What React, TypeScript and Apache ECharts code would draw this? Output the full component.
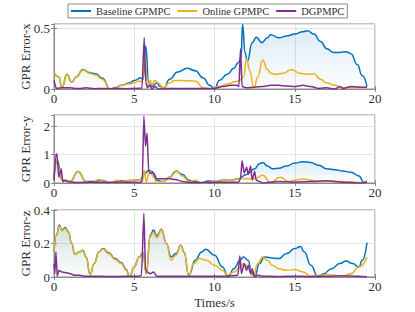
import React, { useEffect, useRef } from "react";
import * as echarts from "echarts";

type Pt = [number, number];

const seriesNames = ["Baseline GPMPC", "Online GPMPC", "DGPMPC"];
const panelNames = ["GPR Error-x", "GPR Error-y", "GPR Error-z"];
const xTicks = [0, 5, 10, 15, 20];
const yMax = [0.533, 2.39, 0.4];
const yStep = [0.5, 1, 0.2];

// ---------- Panel x ----------
const baselineX: Pt[] = [
  [0, 0.135], [0.3, 0.1], [0.5, 0.01], [0.8, 0.12], [1.1, 0.055], [1.4, 0.1], [1.8, 0.16], [2.2, 0.135],
  [2.6, 0.125], [3.0, 0.09], [3.5, 0.0], [3.8, 0.01], [4.2, 0.03], [4.7, 0.05], [5.0, 0.07], [5.4, 0.09],
  [5.55, 0.08], [5.72, 0.35], [5.9, 0.05], [6.1, 0.02], [6.4, 0.05], [6.6, 0.02], [6.85, 0.01], [7.2, 0.08],
  [7.7, 0.14], [8.3, 0.17], [8.8, 0.15], [9.3, 0.09], [9.7, 0.03], [10.0, 0.0], [10.3, 0.07], [10.8, 0.12],
  [11.2, 0.17], [11.5, 0.22], [11.65, 0.26], [11.75, 0.53], [11.9, 0.3], [12.05, 0.23], [12.35, 0.38],
  [12.6, 0.425], [12.95, 0.38], [13.3, 0.42], [13.5, 0.445], [14.0, 0.42], [14.5, 0.435], [15.0, 0.45],
  [15.5, 0.47], [15.8, 0.478], [16.2, 0.45], [16.6, 0.39], [17.0, 0.33], [17.4, 0.3], [17.8, 0.3],
  [18.2, 0.305], [18.5, 0.29], [18.9, 0.2], [19.2, 0.11], [19.5, 0.02],
];
const onlineX: Pt[] = [
  [0, 0.135], [0.3, 0.1], [0.5, 0.01], [0.8, 0.12], [1.1, 0.055], [1.4, 0.1], [1.8, 0.155], [2.2, 0.13],
  [2.6, 0.115], [3.0, 0.08], [3.5, 0.0], [3.8, 0.005], [4.2, 0.03], [4.6, 0.04], [5.0, 0.05], [5.3, 0.065],
  [5.5, 0.06], [5.65, 0.28], [5.85, 0.02], [6.0, 0.07], [6.1, 0.03], [6.25, 0.07], [6.5, 0.05], [6.8, 0.01],
  [7.2, 0.05], [7.5, 0.07], [8.0, 0.07], [8.8, 0.065], [9.3, 0.01], [9.8, 0.0], [10.3, 0.02], [10.8, 0.04],
  [11.3, 0.06], [11.55, 0.07], [11.8, 0.1], [12.0, 0.245], [12.2, 0.15], [12.45, 0.01], [12.7, 0.1],
  [13.0, 0.238], [13.3, 0.16], [13.5, 0.13], [13.8, 0.12], [14.3, 0.13], [14.8, 0.16], [15.3, 0.13],
  [15.8, 0.12], [16.2, 0.125], [16.6, 0.08], [17.0, 0.05], [17.5, 0.03], [18.0, 0.01], [18.5, 0.01],
  [19.0, 0.015], [19.5, 0.01],
];
const dgX: Pt[] = [
  [0, 0.07], [0.15, 0.005], [0.5, 0.01], [1.0, 0.01], [1.5, 0.004], [2.0, 0.01], [2.5, 0.003], [3.0, 0.004],
  [3.5, 0.003], [4.0, 0.004], [4.5, 0.003], [5.0, 0.005], [5.48, 0.008], [5.62, 0.42], [5.72, 0.05],
  [5.82, 0.01], [6.0, 0.03], [6.1, 0.0], [6.3, 0.02], [6.5, 0.0], [7.0, 0.005], [8.0, 0.004], [9.0, 0.005],
  [10.0, 0.005], [10.5, 0.02], [11.0, 0.03], [11.4, 0.03], [11.52, 0.02], [11.62, 0.33], [11.72, 0.02],
  [12.0, 0.01], [12.5, 0.015], [13.0, 0.02], [13.5, 0.03], [14.0, 0.03], [14.5, 0.025], [15.0, 0.02],
  [15.5, 0.03], [16.0, 0.02], [16.5, 0.005], [17.0, 0.01], [17.5, 0.0], [17.8, 0.02], [18.0, 0.005],
  [18.5, 0.02], [19.0, 0.015], [19.5, 0.015],
];

// ---------- Panel y ----------
const baselineY: Pt[] = [
  [0, 0.2], [0.2, 0.8], [0.5, 0.1], [1.0, 0.05], [1.5, 0.4], [2.0, 0.05], [2.5, 0.05], [2.9, 0.1],
  [3.5, 0.02], [4.0, 0.08], [4.5, 0.08], [5.0, 0.1], [5.4, 0.12], [5.6, 0.3], [5.9, 0.45], [6.1, 0.4],
  [6.4, 0.1], [6.8, 0.05], [7.2, 0.2], [7.6, 0.42], [8.0, 0.3], [8.4, 0.1], [8.8, 0.05], [9.2, 0.0],
  [9.6, 0.07], [10.0, 0.05], [10.5, 0.1], [11.0, 0.1], [11.5, 0.15], [12.0, 0.3], [12.5, 0.5], [12.8, 0.68],
  [13.0, 0.72], [13.3, 0.6], [13.6, 0.5], [14.0, 0.52], [14.5, 0.6], [15.0, 0.7], [15.5, 0.75], [16.0, 0.72],
  [16.5, 0.62], [17.0, 0.5], [17.5, 0.47], [18.0, 0.42], [18.5, 0.38], [19.0, 0.25], [19.3, 0.03], [19.5, 0.08],
];
const onlineY: Pt[] = [
  [0, 0.2], [0.15, 0.8], [0.3, 0.5], [0.5, 0.1], [0.8, 0.1], [1.0, 0.05], [1.5, 0.4], [2.0, 0.05],
  [2.3, 0.0], [2.8, 0.12], [3.2, 0.05], [3.6, 0.0], [3.9, 0.1], [4.2, 0.05], [4.6, 0.1], [5.0, 0.1],
  [5.4, 0.12], [5.5, 0.05], [5.62, 0.45], [5.75, 0.05], [5.9, 0.3], [6.0, 0.4], [6.2, 0.2], [6.4, 0.0],
  [6.8, 0.05], [7.2, 0.2], [7.65, 0.41], [8.0, 0.25], [8.4, 0.05], [8.8, 0.1], [9.2, 0.0], [9.6, 0.02],
  [10.0, 0.05], [10.5, 0.08], [11.0, 0.1], [11.5, 0.14], [12.0, 0.15], [12.5, 0.15], [13.0, 0.27],
  [13.5, 0.02], [14.1, 0.2], [14.6, 0.05], [15.0, 0.1], [15.5, 0.14], [16.0, 0.1], [16.7, 0.05],
  [17.2, 0.08], [17.8, 0.05], [18.5, 0.04], [19.0, 0.02], [19.5, 0.02],
];
const dgY: Pt[] = [
  [0, 0.1], [0.1, 0.9], [0.18, 1.03], [0.3, 0.2], [0.45, 0.5], [0.55, 0.05], [0.7, 0.1], [0.9, 0.04],
  [1.5, 0.02], [2.5, 0.03], [3.5, 0.02], [4.5, 0.03], [5.4, 0.02], [5.5, 0.1], [5.6, 2.35], [5.7, 1.3],
  [5.8, 1.75], [5.9, 0.4], [6.0, 0.35], [6.2, 0.35], [6.4, 0.15], [6.8, 0.15], [7.2, 0.15], [7.6, 0.12],
  [8.0, 0.05], [8.4, 0.02], [9.5, 0.02], [10.5, 0.03], [11.5, 0.03], [11.62, 0.15], [11.72, 0.78],
  [11.85, 0.35], [12.0, 0.55], [12.1, 0.3], [12.25, 0.6], [12.35, 0.1], [12.5, 0.4], [12.6, 0.1],
  [12.8, 0.05], [13.0, 0.0], [14.0, 0.05], [15.0, 0.03], [16.0, 0.05], [17.0, 0.08], [18.0, 0.03],
  [19.0, 0.0], [19.5, 0.02],
];

// ---------- Panel z ----------
const baselineZ: Pt[] = [
  [0, 0.15], [0.15, 0.25], [0.33, 0.31], [0.5, 0.28], [0.7, 0.295], [0.9, 0.27], [1.1, 0.2], [1.3, 0.135],
  [1.6, 0.15], [1.8, 0.16], [2.0, 0.12], [2.25, 0.015], [2.5, 0.08], [2.8, 0.15], [3.05, 0.17], [3.4, 0.145],
  [3.8, 0.11], [4.2, 0.085], [4.5, 0.045], [4.7, 0.0], [5.0, 0.06], [5.3, 0.12], [5.55, 0.145], [5.75, 0.02],
  [6.0, 0.25], [6.2, 0.28], [6.4, 0.245], [6.7, 0.285], [7.0, 0.2], [7.3, 0.12], [7.6, 0.14], [7.9, 0.19],
  [8.1, 0.15], [8.4, 0.01], [8.8, 0.1], [9.2, 0.15], [9.45, 0.166], [10.0, 0.13], [10.5, 0.06], [10.85, 0.0],
  [11.2, 0.05], [11.6, 0.1], [11.8, 0.12], [12.1, 0.1], [12.3, 0.03], [12.5, 0.0], [12.8, 0.08], [13.1, 0.12],
  [13.5, 0.115], [14.0, 0.11], [14.5, 0.14], [15.0, 0.17], [15.35, 0.182], [15.6, 0.15], [16.0, 0.07],
  [16.45, 0.0], [16.8, 0.02], [17.3, 0.05], [17.8, 0.08], [18.2, 0.095], [18.6, 0.08], [19.0, 0.06],
  [19.2, 0.1], [19.5, 0.205],
];
const onlineZ: Pt[] = [
  [0, 0.15], [0.15, 0.25], [0.33, 0.305], [0.5, 0.275], [0.7, 0.29], [0.9, 0.265], [1.1, 0.2], [1.3, 0.135],
  [1.6, 0.15], [1.8, 0.158], [2.0, 0.12], [2.25, 0.015], [2.5, 0.08], [2.8, 0.15], [3.05, 0.167], [3.4, 0.14],
  [3.8, 0.105], [4.2, 0.08], [4.5, 0.04], [4.7, 0.0], [5.0, 0.06], [5.3, 0.12], [5.55, 0.14], [5.75, 0.02],
  [6.0, 0.24], [6.2, 0.267], [6.4, 0.235], [6.7, 0.282], [7.0, 0.2], [7.3, 0.1], [7.6, 0.13], [7.9, 0.188],
  [8.1, 0.15], [8.4, 0.01], [8.7, 0.08], [9.05, 0.11], [9.5, 0.1], [10.0, 0.07], [10.5, 0.04], [10.8, 0.01],
  [11.2, 0.03], [11.5, 0.05], [11.8, 0.08], [12.1, 0.06], [12.4, 0.0], [12.7, 0.08], [13.0, 0.12],
  [13.3, 0.1], [13.6, 0.07], [14.0, 0.05], [14.5, 0.04], [15.0, 0.045], [15.5, 0.03], [16.0, 0.005],
  [16.5, 0.01], [17.0, 0.015], [17.5, 0.01], [18.0, 0.005], [18.5, 0.02], [19.0, 0.06], [19.5, 0.12],
];
const dgZ: Pt[] = [
  [0, 0.08], [0.05, 0.02], [0.12, 0.15], [0.2, 0.005], [0.3, 0.04], [0.5, 0.03], [0.8, 0.025], [1.0, 0.02],
  [1.3, 0.01], [1.6, 0.01], [1.9, 0.005], [2.5, 0.005], [3.5, 0.003], [4.5, 0.004], [5.3, 0.005],
  [5.45, 0.01], [5.6, 0.38], [5.7, 0.05], [5.8, 0.03], [6.0, 0.02], [6.2, 0.03], [6.4, 0.005], [7.5, 0.004],
  [9.0, 0.005], [10.5, 0.004], [11.45, 0.01], [11.58, 0.127], [11.68, 0.02], [11.85, 0.08], [12.0, 0.04],
  [12.1, 0.07], [12.25, 0.02], [12.35, 0.05], [12.5, 0.0], [12.7, 0.01], [13.0, 0.005], [14.0, 0.003],
  [15.0, 0.005], [16.0, 0.003], [17.0, 0.005], [18.0, 0.008], [19.0, 0.005], [19.5, 0.002],
];

const panels: Pt[][][] = [
  [baselineX, onlineX, dgX],
  [baselineY, onlineY, dgY],
  [baselineZ, onlineZ, dgZ],
];

const COLORS = ["#0072BD", "#EDB120", "#7E2F8E"];
const FONT = "Liberation Serif, Times New Roman, serif";
const TXT = "#303030";
const BOX = "#8a8a8a";

export default function App() {
  const ref = useRef<HTMLDivElement>(null);
  useEffect(() => {
    if (!ref.current) return;
    const chart = echarts.init(ref.current, undefined, { renderer: "svg" });
    const gridPos = [
      { top: 24, height: 65 },
      { top: 115, height: 68 },
      { top: 210, height: 67 },
    ];
    const grid = gridPos.map((g) => ({
      left: 54,
      right: 40,
      top: g.top,
      height: g.height,
      show: true,
      borderColor: BOX,
      borderWidth: 1,
      backgroundColor: "#fff",
    }));
    const xAxis: any[] = [];
    const yAxis: any[] = [];
    for (let i = 0; i < 3; i++) {
      xAxis.push({
        type: "value",
        gridIndex: i,
        min: xTicks[0],
        max: xTicks[xTicks.length - 1],
        interval: 5,
        position: "bottom",
        axisLine: { show: true, lineStyle: { color: BOX } },
        axisTick: { show: true, inside: true, length: 3, lineStyle: { color: BOX } },
        axisLabel: { color: TXT, fontFamily: FONT, fontSize: 13, margin: 3 },
        splitLine: { show: true, lineStyle: { color: "#e3e3e3", width: 1 } },
        name: i === 2 ? "Times/s" : "",
        nameLocation: "middle",
        nameGap: 19,
        nameMoveOverlap: false,
        nameTextStyle: { color: TXT, fontFamily: FONT, fontSize: 13 },
      });
      yAxis.push({
        type: "value",
        gridIndex: i,
        min: 0,
        max: yMax[i],
        interval: yStep[i],
        position: "left",
        axisLine: { show: true, lineStyle: { color: BOX } },
        axisTick: { show: true, inside: true, length: 3, lineStyle: { color: BOX } },
        axisLabel: {
          color: TXT,
          fontFamily: FONT,
          fontSize: 13,
          margin: 4,
          showMaxLabel: i === 2,
        },
        splitLine: { show: true, lineStyle: { color: "#e3e3e3", width: 1 } },
        name: panelNames[i],
        nameLocation: "middle",
        nameRotate: 90,
        nameGap: 22,
        nameMoveOverlap: false,
        nameTextStyle: { color: TXT, fontFamily: FONT, fontSize: 13 },
      });
    }
    // mirrored axes for top/right tick marks
    for (let i = 0; i < 3; i++) {
      xAxis.push({
        type: "value",
        gridIndex: i,
        min: 0,
        max: 20,
        interval: 5,
        position: "top",
        axisLine: { show: true, lineStyle: { color: BOX } },
        axisTick: { show: true, inside: true, length: 3, lineStyle: { color: BOX } },
        axisLabel: { show: false },
        splitLine: { show: false },
      });
      yAxis.push({
        type: "value",
        gridIndex: i,
        min: 0,
        max: yMax[i],
        interval: yStep[i],
        position: "right",
        axisLine: { show: true, lineStyle: { color: BOX } },
        axisTick: { show: true, inside: true, length: 3, lineStyle: { color: BOX } },
        axisLabel: { show: false },
        splitLine: { show: false },
      });
    }

    const fills = [
      ["rgba(0,114,189,0.22)", "rgba(0,114,189,0.0)"],
      ["rgba(190,170,90,0.16)", "rgba(190,170,90,0.02)"],
    ];
    const series: any[] = [];
    panels.forEach((pData, pi) => {
      pData.forEach((d, si) => {
        series.push({
          type: "line",
          name: seriesNames[si],
          xAxisIndex: pi,
          yAxisIndex: pi,
          data: d,
          symbol: "none",
          smooth: si === 2 ? 0.2 : 0.5,
          smoothMonotone: "x",
          lineStyle: { color: COLORS[si], width: 1.5 },
          itemStyle: { color: COLORS[si] },
          areaStyle:
            si < 2
              ? {
                  color: new echarts.graphic.LinearGradient(0, 0, 0, 1, [
                    { offset: 0, color: fills[si][0] },
                    { offset: 1, color: fills[si][1] },
                  ]),
                }
              : undefined,
          z: 2 + si,
        });
      });
    });

    chart.setOption({
      animation: false,
      backgroundColor: "#fff",
      legend: {
        data: seriesNames,
        left: 68,
        top: 4,
        padding: [1, 3, 1, 3],
        itemGap: 7,
        itemWidth: 20,
        itemHeight: 2,
        icon: "rect",
        borderColor: BOX,
        borderWidth: 1,
        borderRadius: 0,
        backgroundColor: "#fff",
        textStyle: { color: TXT, fontFamily: FONT, fontSize: 10.5, lineHeight: 12 },
      },
      grid,
      xAxis,
      yAxis,
      series,
    });
    return () => chart.dispose();
  }, []);
  return (
    <div
      ref={ref}
      style={{ position: "fixed", left: 0, top: 0, width: 415, height: 312 }}
    />
  );
}
